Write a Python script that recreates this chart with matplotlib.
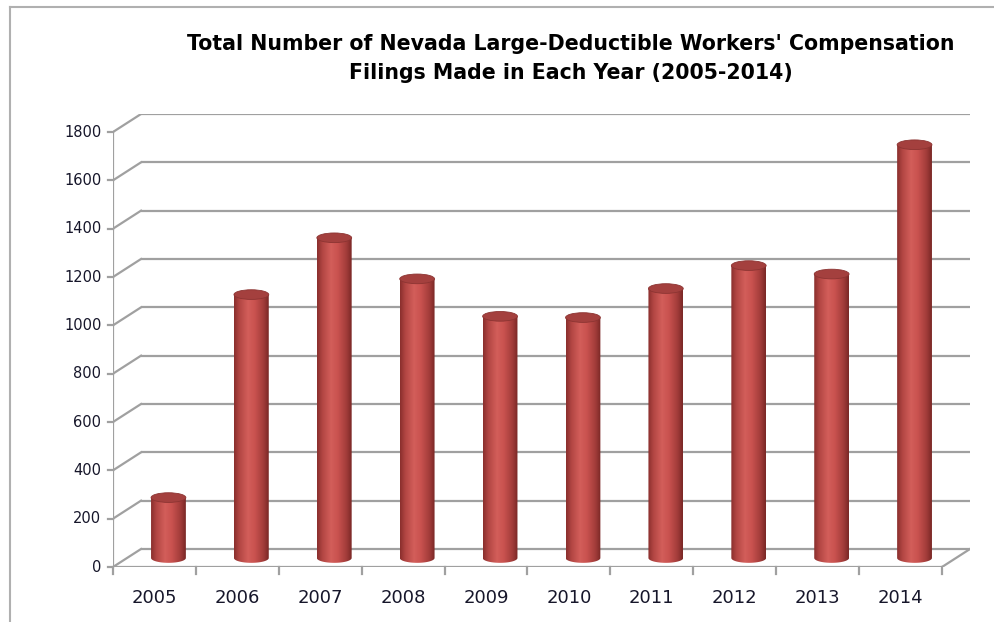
import numpy as np
import matplotlib.pyplot as plt
from matplotlib.patches import Ellipse, PathPatch
from matplotlib.path import Path
from matplotlib.colors import to_rgb

years = ['2005', '2006', '2007', '2008', '2009', '2010', '2011', '2012', '2013', '2014']
filings = [250, 1090, 1325, 1155, 1000, 995, 1115, 1210, 1175, 1710]
yticks = [0, 200, 400, 600, 800, 1000, 1200, 1400, 1600, 1800]
title = "Total Number of Nevada Large-Deductible Workers' Compensation\nFilings Made in Each Year (2005-2014)"

# 3d depth offset of the back wall (x in categories, y in value units)
DX = 0.338
DY = 74.5
grid_c = '#a0a0a0'
txt_c = '#16162a'

fig = plt.figure(figsize=(9.94, 6.22), dpi=100)
fig.patch.set_facecolor('white')
# thin frame on the left and top edges
fig.add_artist(plt.Line2D([10/994, 10/994], [0, 1 - 7/622], transform=fig.transFigure,
                          color='#b0b0b0', lw=1.5))
fig.add_artist(plt.Line2D([10/994, 1], [1 - 7/622, 1 - 7/622], transform=fig.transFigure,
                          color='#b0b0b0', lw=1.5))

ax = fig.add_axes([113/994, (622-567)/622, (970-113)/994, (567-114)/622])
n = len(years)
ax.axis('off')

# back wall gridlines, left wall diagonals
for v in yticks:
    ax.plot([DX, n + DX], [v + DY, v + DY], color=grid_c, lw=1.6, solid_capstyle='butt', zorder=1)
    ax.plot([0, DX], [v, v + DY], color=grid_c, lw=1.6, zorder=1)
    ax.plot([-0.06, 0], [v, v], color=grid_c, lw=1.6, clip_on=False, zorder=1)
    ax.text(-0.14, v, str(v), ha='right', va='center', fontsize=10.5, color=txt_c)
# floor
ax.plot([0, n], [0, 0], color=grid_c, lw=1.6, zorder=1)
ax.plot([n, n + DX], [0, DY], color=grid_c, lw=1.6, zorder=1)
ax.plot([0, 0], [0, 1800], color=grid_c, lw=1.6, zorder=1)
for i in range(n + 1):
    ax.plot([i, i], [0, -28], color=grid_c, lw=1.6, clip_on=False, zorder=1)
for i, yr in enumerate(years):
    ax.text(i + 0.5, -128, yr, ha='center', va='center', fontsize=13, color=txt_c)

# cylinders
w = 0.42
eh = 40
stops = [0.0, 0.15, 0.4, 0.6, 0.85, 1.0]
cols = [to_rgb(c) for c in ['#8a2f2d', '#b24643', '#d35e5a', '#c9524f', '#a23c3a', '#7a2826']]
xs = np.linspace(0, 1, 64)
grad = np.array([[np.interp(x, stops, [c[k] for c in cols]) for k in range(3)] for x in xs])[None, :, :]
for i, val in enumerate(filings):
    cx = i + 0.5 + DX / 2
    base = DY / 2
    top = base + val
    t = np.linspace(np.pi, 2 * np.pi, 40)
    pts = [(cx + w / 2 * np.cos(a), base + eh / 2 * np.sin(a)) for a in t]
    pts += [(cx + w / 2, top), (cx - w / 2, top), pts[0]]
    patch = PathPatch(Path(pts), facecolor='none', edgecolor='none')
    ax.add_patch(patch)
    im = ax.imshow(grad, extent=[cx - w / 2, cx + w / 2, base - eh, top], aspect='auto',
                   zorder=3, interpolation='bilinear')
    im.set_clip_path(patch)
    ax.add_patch(Ellipse((cx, top), w, eh, facecolor='#a4403e', edgecolor='#8c3432', lw=0.6, zorder=4))

ax.set_xlim(0, n + DX)
ax.set_ylim(0, 1800 + DY)

fig.text(571/994, 1 - 58.5/622, title, ha='center', va='center', fontsize=14.8,
         fontweight='bold', linespacing=1.6, color='black')

fig.savefig('out.png', dpi=100)
